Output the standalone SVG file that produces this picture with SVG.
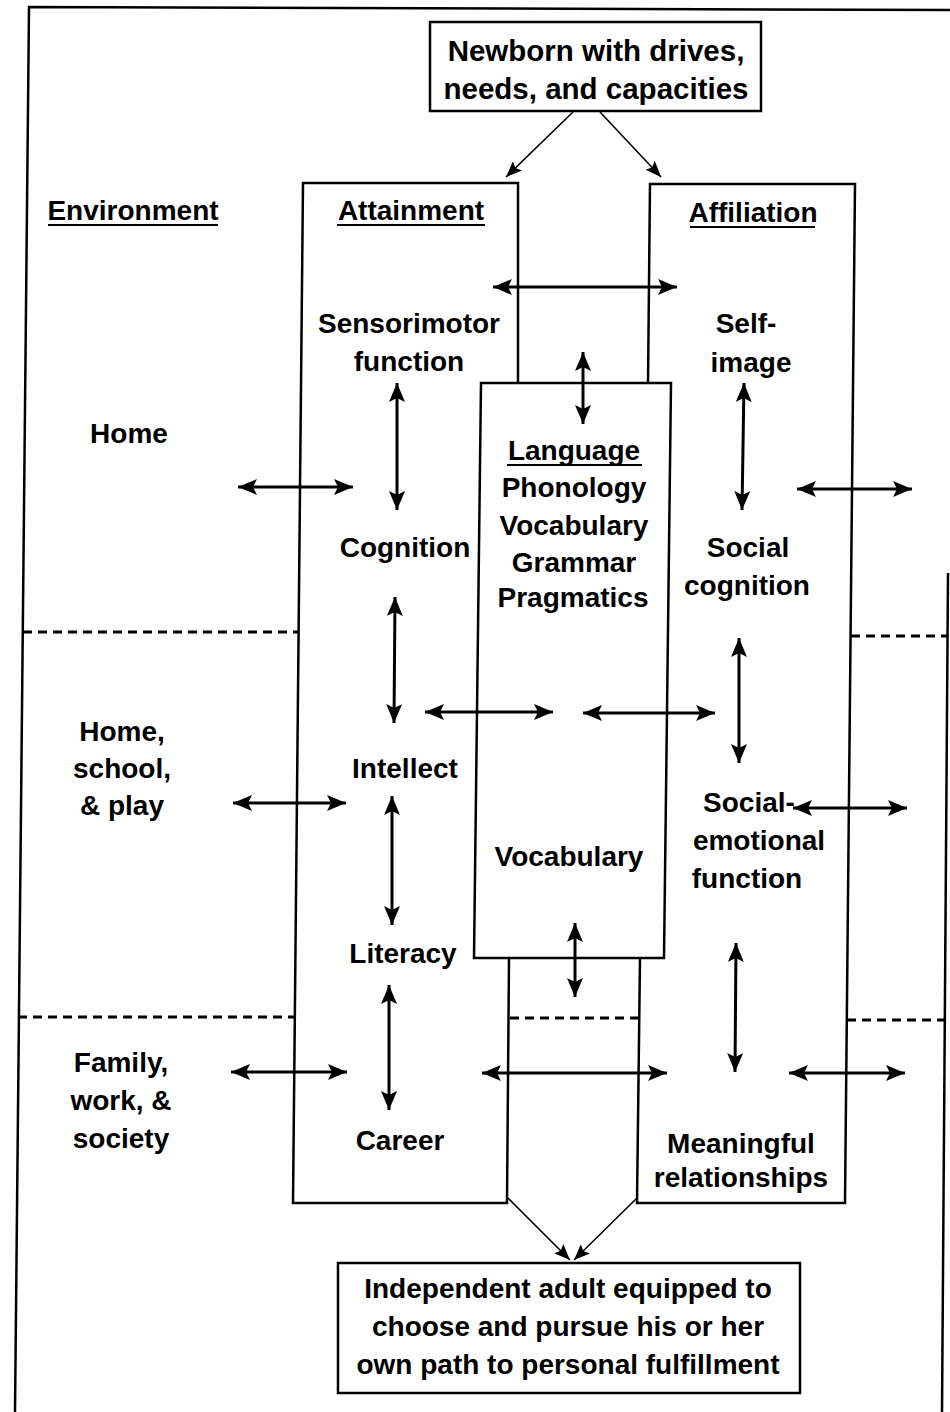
<svg xmlns="http://www.w3.org/2000/svg" width="950" height="1412" viewBox="0 0 950 1412">
<defs>
<style>
text { font-family: "Liberation Sans", Arial, sans-serif; font-weight: bold; font-size: 28px; text-anchor: middle; fill: #000; }
.big { font-size: 29.5px; }
.box { fill: none; stroke: #000; stroke-width: 2.5; stroke-linejoin: miter; }
.dash { fill: none; stroke: #000; stroke-width: 3; stroke-dasharray: 9 6; }
.arr { fill: none; stroke: #000; stroke-width: 3; marker-start: url(#ah); marker-end: url(#ah); }
.thin { fill: none; stroke: #000; stroke-width: 1.6; marker-end: url(#ahs); }
.ul { stroke: #000; stroke-width: 2; }
</style>
<marker id="ah" markerUnits="userSpaceOnUse" markerWidth="19" markerHeight="16" refX="19" refY="8" orient="auto-start-reverse"><path d="M0,0 L19,8 L0,16 L4,8 Z" fill="#000"/></marker>
<marker id="ahs" markerUnits="userSpaceOnUse" markerWidth="16" markerHeight="13" refX="16" refY="6.5" orient="auto"><path d="M0,0 L16,6.5 L0,13 L3,6.5 Z" fill="#000"/></marker>
</defs>
<rect width="950" height="1412" fill="#fff"/>

<g id="outer-frame">
<polyline class="box" points="15,1412 29,7 950,10"/>
<line class="box" x1="948" y1="573" x2="942" y2="1412"/>
</g>

<g id="newborn">
<rect class="box" x="430" y="22" width="331" height="89"/>
<text class="big" x="596" y="61">Newborn with drives,</text>
<text class="big" x="596" y="99">needs, and capacities</text>
</g>

<g id="attainment">
<path class="box" d="M518,383 L518,183 L303,183 L293,1203 L507,1203 L509,958"/>
<text x="411" y="220">Attainment</text>
<line class="ul" x1="337" y1="225" x2="485" y2="225"/>
</g>

<g id="affiliation">
<path class="box" d="M648,383 L650,184 L855,184 L845,1203 L637,1203 L640,958"/>
<text x="753" y="222">Affiliation</text>
<line class="ul" x1="690" y1="227" x2="815" y2="227"/>
</g>

<g id="language">
<polygon class="box" points="481,383 671,383 664,958 474,958"/>
<text x="574" y="460">Language</text>
<line class="ul" x1="507" y1="465" x2="642" y2="465"/>
<text x="574" y="497">Phonology</text>
<text x="574" y="535">Vocabulary</text>
<text x="574" y="572">Grammar</text>
<text x="573" y="607">Pragmatics</text>
<text x="569" y="866">Vocabulary</text>
</g>

<g id="environment">
<text x="133" y="220">Environment</text>
<line class="ul" x1="48" y1="225" x2="218" y2="225"/>
</g>
<g id="env-home"><text x="129" y="443">Home</text></g>
<g id="env-school"><text x="122" y="741">Home,</text><text x="122" y="778">school,</text><text x="122" y="815">&amp; play</text></g>
<g id="env-society"><text x="121" y="1072">Family,</text><text x="121" y="1110">work, &amp;</text><text x="121" y="1148">society</text></g>

<g id="sensorimotor"><text x="409" y="333">Sensorimotor</text><text x="409" y="371">function</text></g>
<g id="cognition"><text x="405" y="557">Cognition</text></g>
<g id="intellect"><text x="405" y="778">Intellect</text></g>
<g id="literacy"><text x="403" y="963">Literacy</text></g>
<g id="career"><text x="400" y="1150">Career</text></g>

<g id="self-image"><text x="746" y="333">Self-</text><text x="751" y="372">image</text></g>
<g id="social-cognition"><text x="748" y="557">Social</text><text x="747" y="595">cognition</text></g>
<g id="social-emotional"><text x="749" y="812">Social-</text><text x="759" y="850">emotional</text><text x="747" y="888">function</text></g>
<g id="relationships"><text x="741" y="1153">Meaningful</text><text x="741" y="1187">relationships</text></g>

<g id="outcome">
<rect class="box" x="338" y="1263" width="462" height="130"/>
<text x="568" y="1298">Independent adult equipped to</text>
<text x="568" y="1336">choose and pursue his or her</text>
<text x="568" y="1374">own path to personal fulfillment</text>
</g>

<g id="dividers">
<line class="dash" x1="23" y1="632" x2="298" y2="632"/>
<line class="dash" x1="851" y1="636" x2="947" y2="636"/>
<line class="dash" x1="18" y1="1017" x2="294" y2="1017"/>
<line class="dash" x1="510" y1="1018" x2="639" y2="1018"/>
<line class="dash" x1="847" y1="1020" x2="946" y2="1020"/>
</g>

<g id="connectors">
<line class="thin" x1="573" y1="112" x2="506" y2="177"/>
<line class="thin" x1="600" y1="112" x2="661" y2="177"/>
<line class="thin" x1="508" y1="1198" x2="570" y2="1260"/>
<line class="thin" x1="637" y1="1198" x2="574" y2="1260"/>

<line class="arr" x1="493" y1="287" x2="677" y2="287"/>
<line class="arr" x1="583" y1="352" x2="583" y2="424"/>

<line class="arr" x1="397" y1="383" x2="397" y2="510"/>
<line class="arr" x1="395" y1="597" x2="394" y2="723"/>
<line class="arr" x1="392" y1="796" x2="392" y2="925"/>
<line class="arr" x1="389" y1="985" x2="389" y2="1110"/>

<line class="arr" x1="744" y1="383" x2="742" y2="510"/>
<line class="arr" x1="739" y1="638" x2="739" y2="763"/>
<line class="arr" x1="736" y1="943" x2="735" y2="1072"/>

<line class="arr" x1="238" y1="487" x2="353" y2="487"/>
<line class="arr" x1="233" y1="803" x2="346" y2="803"/>
<line class="arr" x1="231" y1="1072" x2="347" y2="1072"/>

<line class="arr" x1="425" y1="712" x2="553" y2="712"/>
<line class="arr" x1="583" y1="713" x2="715" y2="713"/>

<line class="arr" x1="482" y1="1073" x2="667" y2="1073"/>
<line class="arr" x1="789" y1="1073" x2="905" y2="1073"/>

<line class="arr" x1="797" y1="489" x2="912" y2="489"/>
<line class="arr" x1="793" y1="808" x2="907" y2="808"/>

<line class="arr" x1="575" y1="923" x2="575" y2="997"/>
</g>
</svg>
